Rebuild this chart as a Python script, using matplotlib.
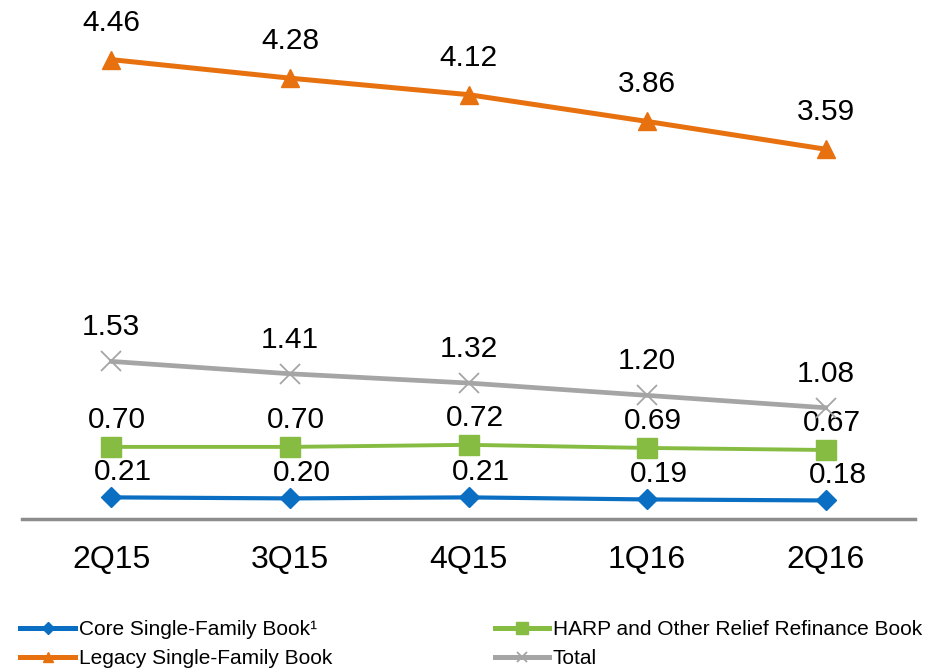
import matplotlib
matplotlib.use("Agg")
import matplotlib.pyplot as plt

plt.rcParams['font.family'] = ['Liberation Sans', 'DejaVu Sans']

quarters = ['2Q15', '3Q15', '4Q15', '1Q16', '2Q16']
core = [0.21, 0.20, 0.21, 0.19, 0.18]
harp = [0.70, 0.70, 0.72, 0.69, 0.67]
legacy = [4.46, 4.28, 4.12, 3.86, 3.59]
total = [1.53, 1.41, 1.32, 1.20, 1.08]

# label, values, colour, marker, markersize, linewidth, label offset (px)
series = [
    ('Core Single-Family Book\u00b9', core, '#0A6EC3', 'D', 10.5, 3.0, (12, 25)),
    ('Legacy Single-Family Book', legacy, '#E8710F', '^', 13, 3.6, (0, 37)),
    ('HARP and Other Relief Refinance Book', harp, '#86BC42', 's', 15, 2.8, (6, 27)),
    ('Total', total, '#A5A5A5', 'x', 14, 3.4, (0, 34)),
]

fig = plt.figure(figsize=(9.49, 6.68), dpi=100)
ax = fig.add_axes([22 / 949, 149 / 668, 893 / 949, 519 / 668])
x = list(range(len(quarters)))

handles = []
for name, vals, col, mk, ms, lw, (dx, dy) in series:
    mew = 1.3 if mk == 'x' else 1
    h, = ax.plot(x, vals, color=col, linewidth=lw, marker=mk, markersize=ms,
                 markeredgewidth=mew, label=name, zorder=3)
    handles.append(h)
    for xi, v in zip(x, vals):
        ax.annotate(f'{v:.2f}', (xi, v), xytext=(dx, dy), textcoords='offset pixels',
                    ha='center', va='center', fontsize=21.5, color='black')

ax.set_xlim(-0.5, 4.5)
ax.set_ylim(0, 519 / 103)
ax.set_xticks(x)
ax.set_xticklabels(quarters, fontsize=23)
ax.tick_params(axis='x', length=0, pad=19)
ax.set_yticks([])
for s in ['top', 'left', 'right']:
    ax.spines[s].set_visible(False)
ax.spines['bottom'].set_color('#8C8C8C')
ax.spines['bottom'].set_linewidth(2.5)

leg = fig.legend(handles=handles, loc='upper left', bbox_to_anchor=(10 / 949, 1 - 610 / 668),
                 ncol=2, frameon=False, fontsize=15, handlelength=2.6, handletextpad=0.2,
                 columnspacing=7.8, labelspacing=0.45, markerscale=0.55, borderpad=0)
for line in leg.get_lines():
    line.set_linewidth(3.6)

fig.savefig('out.png', dpi=100)
